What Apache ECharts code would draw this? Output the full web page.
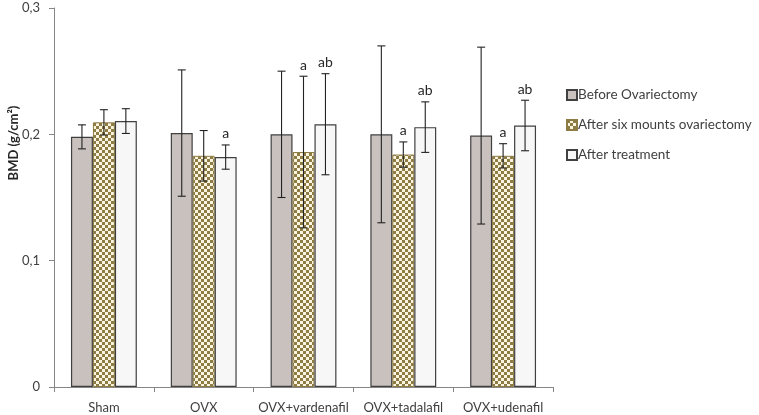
<!DOCTYPE html>
<html>
<head>
<meta charset="utf-8">
<script src="https://cdn.jsdelivr.net/npm/echarts@6/dist/echarts.min.js"></script>
<style>html,body{margin:0;padding:0;background:#fff}#c{width:759px;height:415px}</style>
</head>
<body>
<div id="c"></div>
<script>
const categories = ['Sham', 'OVX', 'OVX+vardenafil', 'OVX+tadalafil', 'OVX+udenafil'];
const seriesNames = ['Before Ovariectomy', 'After six mounts ovariectomy', 'After treatment'];
const before = [0.198, 0.201, 0.200, 0.200, 0.199];
const beforeErr = [0.0095, 0.050, 0.050, 0.070, 0.070];
const afterSix = [0.2095, 0.183, 0.186, 0.184, 0.183];
const afterSixErr = [0.010, 0.020, 0.060, 0.010, 0.0096];
const afterTreat = [0.2105, 0.182, 0.208, 0.2057, 0.207];
const afterTreatErr = [0.0098, 0.0096, 0.040, 0.020, 0.020];
const beforeLetters = ['', '', '', '', ''];
const afterSixLetters = ['', '', 'a', 'a', 'a'];
const afterTreatLetters = ['', 'a', 'ab', 'ab', 'ab'];
const yTicks = ['0', '0,1', '0,2', '0,3'];

const values = [before, afterSix, afterTreat];
const errs = [beforeErr, afterSixErr, afterTreatErr];
const letters = [beforeLetters, afterSixLetters, afterTreatLetters];

const pc = document.createElement('canvas');
pc.width = 6; pc.height = 6;
const g = pc.getContext('2d');
g.fillStyle = '#fbf4de'; g.fillRect(0, 0, 6, 6);
g.fillStyle = '#8e7c45';
g.fillRect(0, 0, 3, 3); g.fillRect(3, 3, 3, 3);
const checker = { image: pc, repeat: 'repeat' };

const GAP = 0.34;
const errData = [];
for (let s = 0; s < 3; s++) {
  for (let i = 0; i < categories.length; i++) {
    errData.push([i, values[s][i], errs[s][i], s, letters[s][i]]);
  }
}

const chart = echarts.init(document.getElementById('c'));
const font = 'Lato, "Liberation Sans", sans-serif';
chart.setOption({
  animation: false,
  textStyle: { fontFamily: font },
  grid: { left: 54, right: 206, top: 8, bottom: 28, containLabel: false },
  legend: {
    orient: 'vertical', left: 561, top: 83, itemWidth: 10, itemHeight: 10, itemGap: 16,
    icon: 'rect',
    data: seriesNames,
    textStyle: { fontFamily: font, fontSize: 13.5, color: '#404040', padding: [0, 0, 0, -4] }
  },
  xAxis: {
    type: 'category', data: categories,
    axisLine: { lineStyle: { color: '#868686' } },
    axisTick: { show: true, length: 5, lineStyle: { color: '#868686' } },
    axisLabel: { color: '#404040', fontSize: 13, margin: 14, fontFamily: font, interval: 0 }
  },
  yAxis: {
    type: 'value', min: 0, max: 0.3, interval: 0.1,
    splitLine: { show: false },
    axisLine: { show: true, lineStyle: { color: '#868686' } },
    axisTick: { show: true, length: 5, lineStyle: { color: '#868686' } },
    axisLabel: { color: '#404040', fontSize: 13, margin: 14, fontFamily: font,
      formatter: (v) => yTicks[Math.round(v * 10)] }
  },
  graphic: [{
    type: 'text', x: 14, y: 143, rotation: Math.PI / 2,
    style: { text: 'BMD (g/cm²)', font: 'bold 13px ' + font, fill: '#262626', textAlign: 'center', textVerticalAlign: 'middle' }
  }],
  series: [
    { name: seriesNames[0], type: 'bar', data: before, barGap: '0%', barCategoryGap: '34%',
      itemStyle: { color: '#c9c1bd', borderColor: '#404040', borderWidth: 1.2 } },
    { name: seriesNames[1], type: 'bar', data: afterSix, barGap: '0%', barCategoryGap: '34%',
      itemStyle: { color: checker, borderColor: '#8e7c45', borderWidth: 1 } },
    { name: seriesNames[2], type: 'bar', data: afterTreat, barGap: '0%', barCategoryGap: '34%',
      itemStyle: { color: '#f7f7f7', borderColor: '#404040', borderWidth: 1.2 } },
    {
      type: 'custom', data: errData, z: 10, silent: true,
      renderItem: function (params, api) {
        const cat = api.value(0), val = api.value(1), e = api.value(2), s = api.value(3);
        const band = api.size([1, 0])[0];
        const bw = band * (1 - GAP) / 3;
        const c = api.coord([cat, val]);
        const x = c[0] + (s - 1) * bw;
        const yt = api.coord([cat, val + e])[1];
        const yb = api.coord([cat, val - e])[1];
        const cap = 4;
        const st = { stroke: '#222', lineWidth: 1.1 };
        const children = [
          { type: 'line', shape: { x1: x, y1: yt, x2: x, y2: yb }, style: st },
          { type: 'line', shape: { x1: x - cap, y1: yt, x2: x + cap, y2: yt }, style: st },
          { type: 'line', shape: { x1: x - cap, y1: yb, x2: x + cap, y2: yb }, style: st }
        ];
        const lab = errData[params.dataIndex][4];
        if (lab) {
          children.push({ type: 'text', x: x, y: yt - 4,
            style: { text: lab, font: '14px ' + font, fill: '#262626', textAlign: 'center', textVerticalAlign: 'bottom' } });
        }
        return { type: 'group', children: children };
      }
    }
  ]
});
</script>
</body>
</html>
